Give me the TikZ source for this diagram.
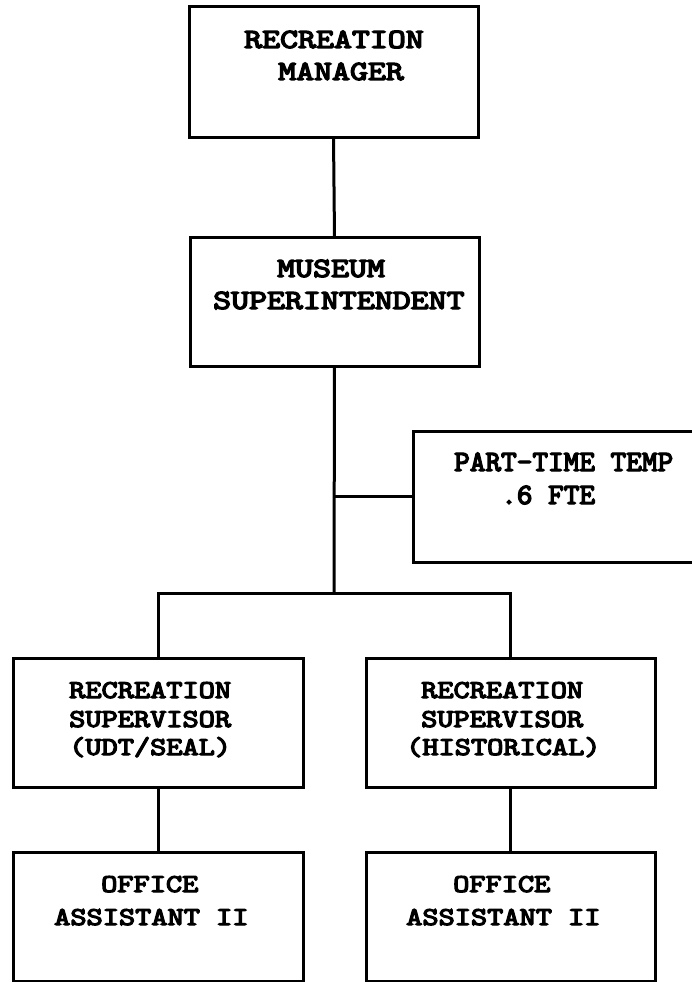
\documentclass[tikz,border=0pt]{standalone}
\usepackage{fontspec}
\usepackage{graphicx}
\newfontfamily\typefont[FakeBold=4.5]{lmmono10-regular.otf}
\newcommand{\stretchtxt}[2]{\scalebox{#1}[1]{#2}}
\begin{document}
\begin{tikzpicture}[x=1pt,y=-1pt,
  box/.style={draw, line width=3pt, rectangle, anchor=north west,
    inner sep=0pt, outer sep=0pt},
  link/.style={line width=3pt},
  big/.style={anchor=base west, inner sep=0pt,
    font=\typefont\fontsize{27.8}{30}\selectfont},
  mid/.style={anchor=base west, inner sep=0pt,
    font=\typefont\fontsize{29.5}{30}\selectfont},
  small/.style={anchor=base west, inner sep=0pt,
    font=\typefont\fontsize{25.7}{27}\selectfont}]
  % page
  \fill[white] (0,0) rectangle (691,982);
  \useasboundingbox (0,0) rectangle (691,982);

  % boxes
  \node[box, minimum width=289pt, minimum height=130pt] (mgr) at (189,7) {};
  \node[box, minimum width=289pt, minimum height=129pt] (mus) at (190,237) {};
  \node[box, minimum width=292pt, minimum height=131pt] (ptt) at (413,431) {};
  \node[box, minimum width=290pt, minimum height=129pt] (supL) at (13,658) {};
  \node[box, minimum width=289pt, minimum height=129pt] (supR) at (366,658) {};
  \node[box, minimum width=290pt, minimum height=129pt] (offL) at (13,852) {};
  \node[box, minimum width=289pt, minimum height=129pt] (offR) at (366,852) {};

  % labels
  \node[big] (t1) at (244,48) {\stretchtxt{1.23}{RECREATION}};
  \node[big] (t2) at (278,80) {\stretchtxt{1.23}{MANAGER}};
  \node[big] (t3) at (277,277) {\stretchtxt{1.23}{MUSEUM}};
  \node[big] (t4) at (213,309) {\stretchtxt{1.23}{SUPERINTENDENT}};
  \node[mid] (t5) at (454,471) {\stretchtxt{1.01}{PART-TIME TEMP}};
  \node[mid] (t6) at (501,504) {\stretchtxt{1.01}{.6 FTE}};
  \node[small] (t7) at (69,698) {\stretchtxt{1.2}{RECREATION}};
  \node[small] (t8) at (69,727) {\stretchtxt{1.2}{SUPERVISOR}};
  \node[small] (t9) at (69,755) {\stretchtxt{1.2}{(UDT/SEAL)}};
  \node[small] (t10) at (421,698) {\stretchtxt{1.2}{RECREATION}};
  \node[small] (t11) at (421,727) {\stretchtxt{1.2}{SUPERVISOR}};
  \node[small] (t12) at (406,755) {\stretchtxt{1.2}{(HISTORICAL)}};
  \node[small] (t13) at (101,892) {\stretchtxt{1.2}{OFFICE}};
  \node[small] (t14) at (54,925) {\stretchtxt{1.2}{ASSISTANT II}};
  \node[small] (t15) at (453,892) {\stretchtxt{1.2}{OFFICE}};
  \node[small] (t16) at (406,925) {\stretchtxt{1.2}{ASSISTANT II}};

  % connectors
  \coordinate (j) at (334,593);
  \coordinate (k) at (mus.south |- ptt.west);
  \draw[link] (mgr.south) -- (mus.north);
  \draw[link] (mus.south) -- (j);
  \draw[link] (k) -- (ptt.west);
  \draw[link] (supL.north) |- (j) -| (supR.north);
  \draw[link] (supL.south) -- (offL.north);
  \draw[link] (supR.south) -- (offR.north);
\end{tikzpicture}
\end{document}
